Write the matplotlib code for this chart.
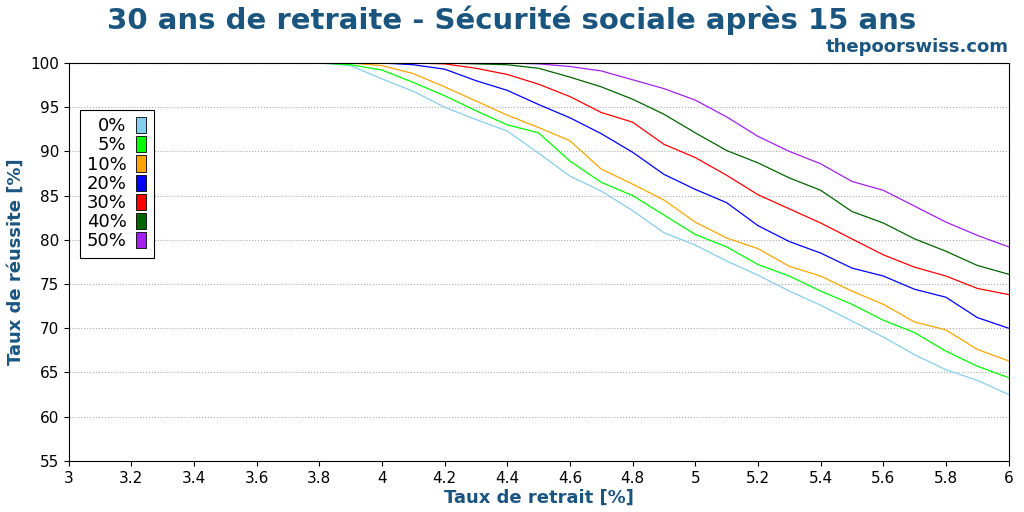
import matplotlib.pyplot as plt
from matplotlib.patches import Patch
import numpy as np

rates = np.round(np.arange(3.0, 6.01, 0.1), 1)

def full(tail):
    # pad with 100% at the low withdrawal rates
    return [100.0] * (len(rates) - len(tail)) + tail

s0 = full([99.7, 98.2, 96.8, 95.0, 93.6, 92.3, 89.8, 87.2, 85.5, 83.3, 80.8, 79.4, 77.6, 76.0, 74.2, 72.6, 70.8, 69.0, 67.0, 65.3, 64.1, 62.5])
s5 = full([99.8, 99.2, 97.8, 96.3, 94.6, 93.0, 92.1, 88.9, 86.5, 85.0, 82.8, 80.6, 79.2, 77.2, 75.9, 74.2, 72.7, 70.9, 69.5, 67.4, 65.7, 64.4])
s10 = full([99.7, 98.8, 97.3, 95.7, 94.1, 92.7, 91.2, 88.0, 86.3, 84.5, 82.0, 80.2, 79.0, 77.0, 75.9, 74.2, 72.7, 70.7, 69.8, 67.6, 66.3])
s20 = full([99.8, 99.3, 98.0, 96.9, 95.3, 93.8, 92.0, 89.9, 87.4, 85.7, 84.2, 81.6, 79.8, 78.5, 76.8, 75.9, 74.4, 73.5, 71.2, 70.0])
s30 = full([99.9, 99.4, 98.7, 97.6, 96.2, 94.4, 93.3, 90.8, 89.3, 87.3, 85.1, 83.5, 81.9, 80.1, 78.3, 76.9, 75.9, 74.5, 73.8])
s40 = full([99.9, 99.8, 99.4, 98.4, 97.3, 95.9, 94.2, 92.1, 90.1, 88.7, 87.0, 85.6, 83.2, 81.9, 80.1, 78.7, 77.1, 76.1])
s50 = full([99.9, 99.6, 99.1, 98.1, 97.1, 95.8, 93.9, 91.7, 90.0, 88.6, 86.6, 85.6, 83.8, 82.0, 80.5, 79.2])

labels = ['0%', '5%', '10%', '20%', '30%', '40%', '50%']
series = [s0, s5, s10, s20, s30, s40, s50]
colors = ['#87ceeb', '#00ff00', '#ffa500', '#0000ff', '#ff0000', '#006400', '#a020f0']

blue = '#1a5580'
fig = plt.figure(figsize=(10.24, 5.12), dpi=100)
ax = fig.add_axes([0.067, 0.1, 0.918, 0.777])
for y, c in zip(series, colors):
    ax.plot(rates, y, color=c, lw=0.9)

ax.set_xlim(3, 6)
ax.set_ylim(55, 100)
ax.set_xticks(np.round(np.arange(3, 6.01, 0.2), 1))
ax.set_xticklabels([f'{v:g}' for v in np.round(np.arange(3, 6.01, 0.2), 1)])
ax.set_yticks(range(55, 101, 5))
ax.yaxis.grid(True, ls=':', color='#aaaaaa')
ax.tick_params(labelsize=11)
ax.set_xlabel('Taux de retrait [%]', fontsize=13, fontweight='bold', color=blue, labelpad=2)
ax.set_ylabel('Taux de réussite [%]', fontsize=13, fontweight='bold', color=blue)

handles = [Patch(facecolor=c, edgecolor='black', lw=0.6) for c in colors]
leg = ax.legend(handles, labels, loc='upper left', bbox_to_anchor=(0.002, 0.905),
                markerfirst=False, fontsize=13, handlelength=0.6, handleheight=1.0,
                labelspacing=0.05, fancybox=False, edgecolor='black', framealpha=1,
                borderpad=0.4, handletextpad=0.5)
leg.get_frame().set_linewidth(0.8)
for t in leg.get_texts():
    t.set_ha('right')

fig.text(0.5, 0.96, '30 ans de retraite - Sécurité sociale après 15 ans', ha='center', va='center',
         fontsize=21, fontweight='bold', color=blue)
fig.text(0.985, 0.908, 'thepoorswiss.com', ha='right', va='center',
         fontsize=13, fontweight='bold', color=blue)

plt.savefig('out.png')
